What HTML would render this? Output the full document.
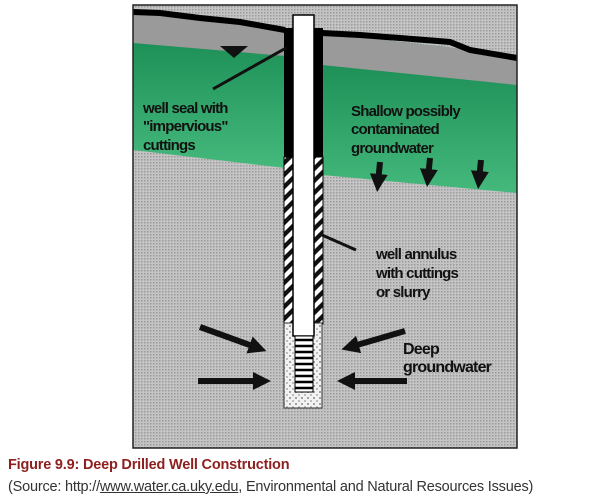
<!DOCTYPE html>
<html><head><style>
body{margin:0;width:616px;height:504px;background:#fff;overflow:hidden;font-family:"Liberation Sans",Arial,sans-serif}
.cap{position:absolute;left:8px;top:457px;font-size:14.5px;font-weight:bold;color:#8e1f1f;letter-spacing:-0.2px}
.src{position:absolute;left:8px;top:479px;font-size:14.5px;color:#333;letter-spacing:-0.2px}
</style></head><body>
<svg width="616" height="504" style="position:absolute;left:0;top:0">
<defs>
<pattern id="dots" width="3" height="3" patternUnits="userSpaceOnUse">
<rect width="3" height="3" fill="#c4c4c4"/><rect width="1.5" height="1.5" fill="#9a9a9a"/>
</pattern>
<linearGradient id="gr" x1="0" y1="0" x2="0" y2="1">
<stop offset="0" stop-color="#14864f"/><stop offset="1" stop-color="#45b97c"/>
</linearGradient>
<pattern id="hatch" width="9" height="12" patternUnits="userSpaceOnUse" patternTransform="skewY(-45)">
<rect width="9" height="12" fill="#fff"/><rect width="9" height="6" fill="#111"/>
</pattern>
<pattern id="grav" width="6" height="6" patternUnits="userSpaceOnUse">
<rect width="6" height="6" fill="#f2f2f2"/><circle cx="2" cy="2" r="1" fill="#888"/><circle cx="5" cy="5" r="0.9" fill="#999"/>
</pattern>
<marker id="ah" markerWidth="3" markerHeight="3" refX="1.5" refY="1.5" orient="auto" markerUnits="strokeWidth"><path d="M0,0 L3,1.5 L0,3z" fill="#111"/></marker>
</defs>
<rect x="133" y="5" width="384" height="443" fill="url(#dots)"/>
<polygon points="133,12 285,30 285,168 133,150" fill="url(#gr)"/>
<polygon points="322,33 517,55 517,193 322,175" fill="url(#gr)"/>
<polygon points="133,12 285,30 285,56 133,43" fill="#9a9a9a"/>
<polygon points="322,33 517,55 517,85 322,65" fill="#9a9a9a"/>
<polyline points="133,12 160,13 200,18 240,22 285,30" fill="none" stroke="#000" stroke-width="6"/>
<polyline points="322,33 360,35 400,38 450,42 470,50 517,58" fill="none" stroke="#000" stroke-width="6"/>
<rect x="133" y="5" width="384" height="443" fill="none" stroke="#222" stroke-width="1.5"/>
<rect x="284" y="28" width="39" height="130" fill="#000"/>
<rect x="284" y="157" width="39" height="167" fill="url(#hatch)" stroke="#000" stroke-width="1"/>
<rect x="284" y="323" width="38" height="85" fill="url(#grav)" stroke="#333" stroke-width="1"/>
<rect x="293" y="15" width="21" height="321" fill="#fff" stroke="#000" stroke-width="1.5"/>
<rect x="295" y="336" width="18" height="56" fill="#fff" stroke="#000" stroke-width="1"/>
<g stroke="#000" stroke-width="2.5">
<line x1="295" y1="340" x2="313" y2="340"/><line x1="295" y1="346" x2="313" y2="346"/><line x1="295" y1="352" x2="313" y2="352"/><line x1="295" y1="358" x2="313" y2="358"/><line x1="295" y1="364" x2="313" y2="364"/><line x1="295" y1="370" x2="313" y2="370"/><line x1="295" y1="376" x2="313" y2="376"/><line x1="295" y1="382" x2="313" y2="382"/><line x1="295" y1="388" x2="313" y2="388"/>
</g>
<polygon points="220,46 248,46 234,58" fill="#111"/>
<line x1="213" y1="89" x2="286" y2="48" stroke="#111" stroke-width="3"/>
<line x1="322" y1="235" x2="356" y2="250" stroke="#111" stroke-width="3"/>
<g stroke="#111" stroke-width="6" marker-end="url(#ah)">
<line x1="380" y1="162" x2="378" y2="183"/>
<line x1="430" y1="158" x2="428" y2="178"/>
<line x1="481" y1="160" x2="479" y2="180"/>
<line x1="200" y1="327" x2="258" y2="348"/>
<line x1="198" y1="381" x2="262" y2="381"/>
<line x1="405" y1="331" x2="350" y2="347"/>
<line x1="407" y1="381" x2="346" y2="381"/>
</g>
<g font-family="Liberation Sans,Arial,sans-serif" font-weight="bold" font-size="15" fill="#111" letter-spacing="-0.8">
<text x="143" y="113">well seal with</text>
<text x="143" y="131">"impervious"</text>
<text x="143" y="150">cuttings</text>
<text x="351" y="116">Shallow possibly</text>
<text x="351" y="134">contaminated</text>
<text x="351" y="153">groundwater</text>
<text x="376" y="259">well annulus</text>
<text x="376" y="278">with cuttings</text>
<text x="376" y="297">or slurry</text>
<text x="403" y="354" font-size="16">Deep</text>
<text x="403" y="372" font-size="16">groundwater</text>
</g>
</svg>
<div class="cap">Figure 9.9: Deep Drilled Well Construction</div>
<div class="src">(Source: http://<u>www.water.ca.uky.edu</u>, Environmental and Natural Resources Issues)</div>
</body></html>
